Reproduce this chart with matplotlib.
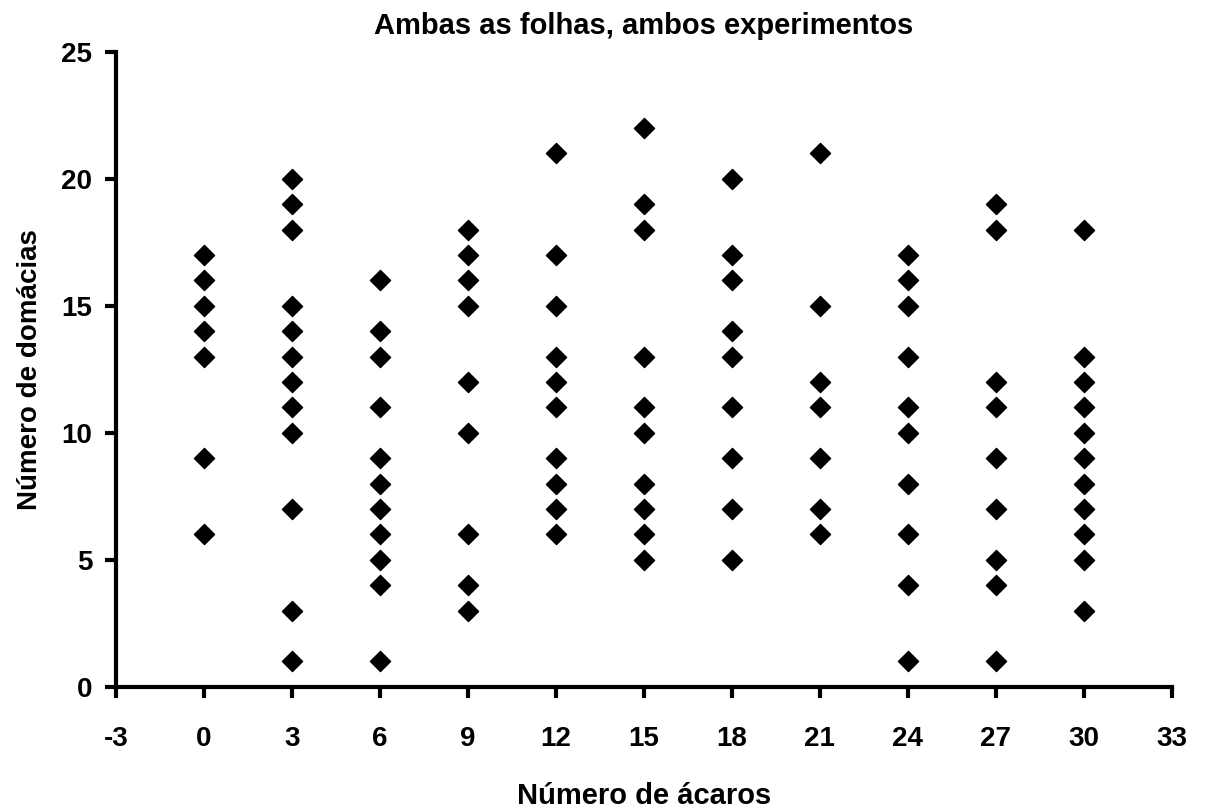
import matplotlib.pyplot as plt
from matplotlib.path import Path

plt.rcParams['font.family'] = ['Liberation Sans', 'DejaVu Sans']
plt.rcParams['axes.unicode_minus'] = False

# Number of mites (x) and number of domatia (y)
acaros = [0, 3, 6, 9, 12, 15, 18, 21, 24, 27, 30]
domacias = [
    [17, 16, 15, 14, 13, 9, 6],
    [20, 19, 18, 15, 14, 13, 12, 11, 10, 7, 3, 1],
    [16, 14, 13, 11, 9, 8, 7, 6, 5, 4, 1],
    [18, 17, 16, 15, 12, 10, 6, 4, 3],
    [21, 17, 15, 13, 12, 11, 9, 8, 7, 6],
    [22, 19, 18, 13, 11, 10, 8, 7, 6, 5],
    [20, 17, 16, 14, 13, 11, 9, 7, 5],
    [21, 15, 12, 11, 9, 7, 6],
    [17, 16, 15, 13, 11, 10, 8, 6, 4, 1],
    [19, 18, 12, 11, 9, 7, 5, 4, 1],
    [18, 13, 12, 11, 10, 9, 8, 7, 6, 5, 3],
]
x_ticks = list(range(-3, 34, 3))
y_ticks = [0, 5, 10, 15, 20, 25]

xs = []
ys = []
for a, vals in zip(acaros, domacias):
    xs += [a] * len(vals)
    ys += vals

# diamond marker like the Excel one
diamond = Path([(-1, 0), (0, 1), (1, 0), (0, -1), (-1, 0)],
               [Path.MOVETO, Path.LINETO, Path.LINETO, Path.LINETO, Path.CLOSEPOLY])

fig = plt.figure(figsize=(12.08, 8.1), dpi=100)
ax = fig.add_axes([0.096, 0.152, 0.874, 0.784])

ax.plot(xs, ys, linestyle='none', marker=diamond, markersize=14.5,
        color='black')

ax.set_xlim(-3, 33)
ax.set_ylim(0, 25)
ax.set_xticks(x_ticks)
ax.set_yticks(y_ticks)

for s in ['top', 'right']:
    ax.spines[s].set_visible(False)
for s in ['left', 'bottom']:
    ax.spines[s].set_linewidth(3)

ax.tick_params(axis='x', direction='out', length=8, width=3, pad=20,
               labelsize=20)
ax.tick_params(axis='y', direction='out', length=8, width=3, pad=9,
               labelsize=20)
for lbl in ax.get_xticklabels() + ax.get_yticklabels():
    lbl.set_fontweight('bold')

ax.set_title('Ambas as folhas, ambos experimentos', fontsize=21,
             fontweight='bold', pad=13)
ax.set_xlabel('Número de ácaros', fontsize=21, fontweight='bold', labelpad=22)
ax.set_ylabel('Número de domácias', fontsize=20, fontweight='bold', labelpad=13)

fig.savefig('out.png', dpi=100)
